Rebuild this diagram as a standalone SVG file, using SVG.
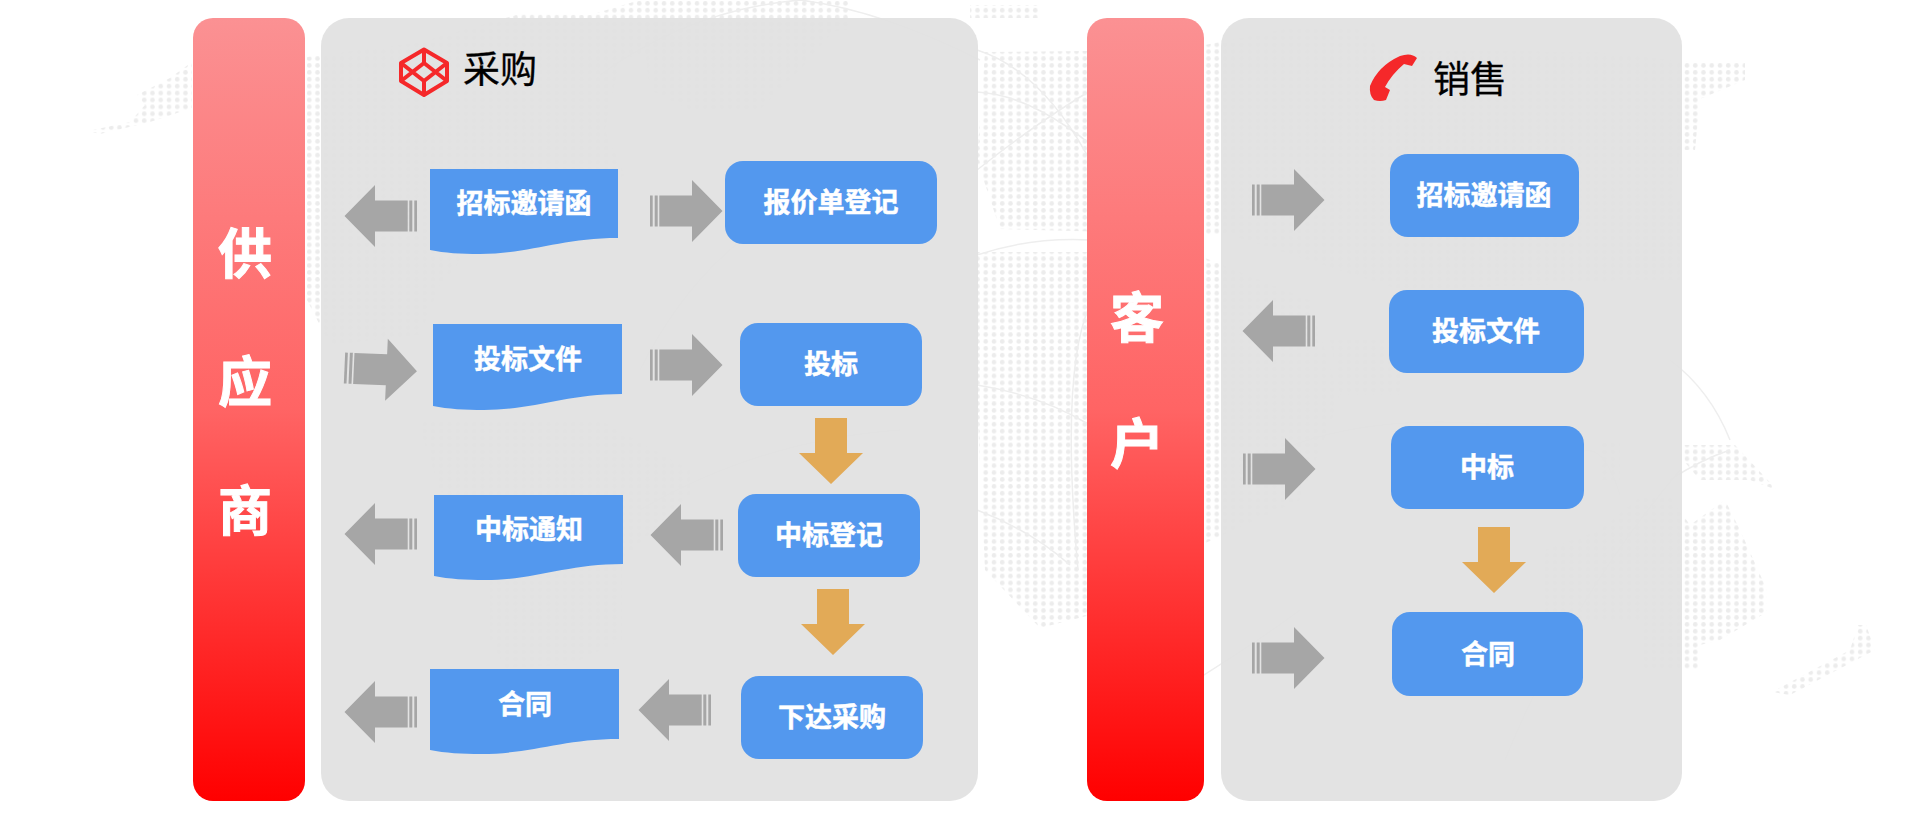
<svg xmlns="http://www.w3.org/2000/svg" width="1918" height="815" viewBox="0 0 1918 815">
<style>
.t{font-family:"Noto Sans CJK SC","Liberation Sans",sans-serif;font-weight:700;fill:#fff;stroke:#fff;text-anchor:middle}
.n{font-size:27px;stroke-width:.5}
.b{font-size:54px;stroke-width:1}
.h{font-family:"Noto Sans CJK SC","Liberation Sans",sans-serif;font-size:37px;fill:#000;stroke:#000;stroke-width:.3;text-anchor:middle}
.box{fill:#5398ee}
.panel{fill:#e1e1e1;fill-opacity:.92}
.arc{fill:none;stroke:#eeeeee;stroke-width:1.5}
</style>
<defs>
<pattern id="dots" width="8.25" height="6.9" patternUnits="userSpaceOnUse"><circle cx="4" cy="3.4" r="2.3" fill="#ececec"/></pattern>
<linearGradient id="red" x1="0" y1="0" x2="0" y2="1"><stop offset="0" stop-color="#fb9193"/><stop offset=".5" stop-color="#ff6464"/><stop offset="1" stop-color="#ff0000"/></linearGradient>
<g id="ga" fill="#a6a6a6"><rect x="0" y="-15.5" width="2.7" height="31"/><rect x="4.7" y="-15.5" width="3" height="31"/><path d="M9.3-15.5H42V-31L72.5 0 42 31V15.5H9.3Z"/></g>
<path id="oa" fill="#e2aa57" d="M-16 0H16V35H32L0 66-32 35H-16Z"/>
</defs>
<g id="map">
<g fill="url(#dots)">
<path d="M88 131L130 122 145 105 137 95 170 78 192 62 192 108 150 122 100 134Z"/>
<path d="M307 57L420 42 520 14 590 15 640 0 850 0 850 30 700 40 620 60 605 130 625 175 560 215 470 250 440 285 420 335 330 345 307 300Z"/>
<path d="M640 20L845 18 800 70 760 110 690 110 650 90Z"/>
<path d="M417 420L600 420 690 470 690 495 622 560 622 640 570 665 505 668 490 640 490 560 440 490Z"/>
<path d="M970 5L1040 5 1040 18 970 18Z"/>
<path d="M985 52L1180 50 1290 28 1360 28 1380 50 1600 52 1700 63 1745 63 1745 80 1700 99 1695 150 1680 150 1670 270 1600 283 1400 290 1230 235 1000 229 977 160Z"/>
<path d="M977 252L1190 252 1310 300 1340 400 1300 500 1190 550 1110 610 1040 628 985 570 977 400Z"/>
<path d="M1330 340L1400 340 1400 395 1340 395Z"/>
<path d="M1480 300L1560 300 1560 360 1480 360Z"/>
<path d="M1620 200L1680 200 1680 280 1620 280Z"/>
<path d="M1683 445L1735 445 1777 490 1750 480 1700 480 1683 460Z"/>
<path d="M1600 440L1620 440 1620 480 1600 480Z"/>
<path d="M1640 497L1670 497 1690 525 1725 500 1740 530 1767 590 1767 612 1720 640 1700 645 1700 670 1640 670 1640 620 1544 625 1544 550 1600 530Z"/>
<path d="M1858 625L1866 625 1875 650 1790 695 1772 692 1850 650Z"/>
</g>
<g class="arc">
<path d="M977 50Q1040 70 1087 155"/><path d="M977 92Q1040 95 1120 170"/><path d="M977 170Q1040 120 1100 85"/>
<path d="M977 255Q1030 237 1090 240"/><path d="M1090 305Q1060 370 1078 570"/><path d="M977 385Q1040 395 1090 425"/><path d="M977 510Q1030 530 1070 565"/>
<path d="M1670 360Q1710 390 1730 440"/><path d="M1670 480Q1700 460 1730 450"/>
<path d="M600 75Q690 10 800 0Q880 10 980 60"/><path d="M640 370Q720 210 880 175"/><path d="M1620 495Q1600 430 1570 460"/>
<path d="M1240 470Q1340 410 1500 425"/><path d="M1180 690Q1260 640 1300 610"/>
<path d="M640 510Q760 440 900 430"/><path d="M1505 760Q1570 600 1680 470"/>
</g>
</g>
<g id="supplier"><rect x="193" y="18" width="112" height="783" rx="20" fill="url(#red)"/>
<text class="t b" x="245" y="274">供</text><text class="t b" x="245" y="402">应</text><text class="t b" x="245" y="531">商</text></g>
<g id="customer"><rect x="1087" y="18" width="117" height="783" rx="20" fill="url(#red)"/>
<text class="t b" x="1137" y="338">客</text><text class="t b" x="1137" y="464">户</text></g>
<g id="purchase-panel"><rect class="panel" x="321" y="18" width="657" height="783" rx="28"/>
<g fill="none" stroke="#f5282a" stroke-width="4" stroke-linejoin="round"><path d="M424 49.500L447 63V81L424 95 401 81V63Z"/><path d="M401 63L424 81 447 63M401 81L424 63 447 81M424 49.500V63M424 81V95"/></g>
<text class="h" x="500" y="83">采购</text></g>
<g id="sales-panel"><rect class="panel" x="1221" y="18" width="461" height="783" rx="28"/>
<path fill="#f5282a" d="M1400 56Q1411 52 1417 58L1412 66 1404 64Q1392 74 1385 87L1390 90 1386 100Q1380 102 1374 100 1369 95 1370 86 1378 66 1400 56Z"/>
<text class="h" x="1470" y="93">销售</text></g>
<g id="connectors">
<use href="#ga" transform="translate(417 216) scale(-1 1)"/>
<use href="#ga" transform="translate(650 211)"/>
<use href="#ga" transform="translate(344.500 368) rotate(2.500)"/>
<use href="#ga" transform="translate(650 365)"/>
<use href="#ga" transform="translate(417 534) scale(-1 1)"/>
<use href="#ga" transform="translate(723 535) scale(-1 1)"/>
<use href="#ga" transform="translate(417 712) scale(-1 1)"/>
<use href="#ga" transform="translate(711 710) scale(-1 1)"/>
<use href="#oa" transform="translate(831 418)"/>
<use href="#oa" transform="translate(833 589)"/>
<use href="#ga" transform="translate(1252 200)"/>
<use href="#ga" transform="translate(1315 331) scale(-1 1)"/>
<use href="#ga" transform="translate(1243 469)"/>
<use href="#ga" transform="translate(1252 658)"/>
<use href="#oa" transform="translate(1494 527)"/>
</g>
<g id="p-doc1"><path class="box" d="M430 169H618V238C560 238 530 254 480 254 460 254 445 253 430 250Z"/><text class="t n" x="524" y="213">招标邀请函</text></g>
<g id="p-doc2"><path class="box" d="M433 324H622V394C565 394 535 410 484 410 465 410 448 409 433 406Z"/><text class="t n" x="528" y="369">投标文件</text></g>
<g id="p-doc3"><path class="box" d="M434 495H623V564C566 564 536 580 485 580 466 580 449 579 434 576Z"/><text class="t n" x="529" y="539">中标通知</text></g>
<g id="p-doc4"><path class="box" d="M430 669H619V739C562 739 532 754 481 754 462 754 445 753 430 750Z"/><text class="t n" x="525" y="714">合同</text></g>
<g id="p-quote"><rect class="box" x="725" y="161" width="212" height="83" rx="18"/><text class="t n" x="831" y="212">报价单登记</text></g>
<g id="p-bid"><rect class="box" x="740" y="323" width="182" height="83" rx="18"/><text class="t n" x="831" y="374">投标</text></g>
<g id="p-win"><rect class="box" x="738" y="494" width="182" height="83" rx="18"/><text class="t n" x="829" y="545">中标登记</text></g>
<g id="p-order"><rect class="box" x="741" y="676" width="182" height="83" rx="18"/><text class="t n" x="832" y="727">下达采购</text></g>
<g id="s-invite"><rect class="box" x="1390" y="154" width="189" height="83" rx="18"/><text class="t n" x="1484" y="205">招标邀请函</text></g>
<g id="s-bidfile"><rect class="box" x="1389" y="290" width="195" height="83" rx="18"/><text class="t n" x="1486" y="341">投标文件</text></g>
<g id="s-win"><rect class="box" x="1391" y="426" width="193" height="83" rx="18"/><text class="t n" x="1487" y="477">中标</text></g>
<g id="s-contract"><rect class="box" x="1392" y="612" width="191" height="84" rx="18"/><text class="t n" x="1488" y="664">合同</text></g>
</svg>
